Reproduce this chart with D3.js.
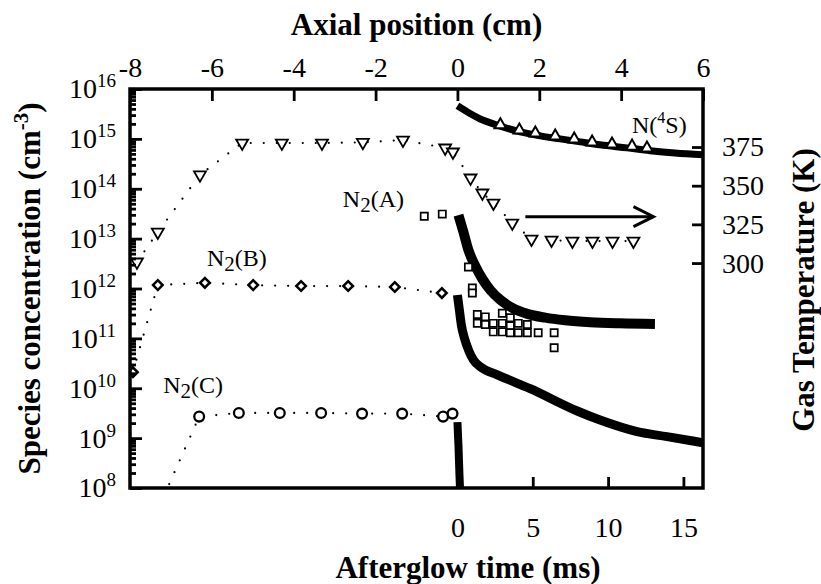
<!DOCTYPE html>
<html>
<head>
<meta charset="utf-8">
<script src="https://cdn.jsdelivr.net/npm/d3@7"></script>
<style>
  body { margin: 0; background: #fff; }
  text { font-family: "Liberation Serif", "Times New Roman", "DejaVu Serif", serif; fill: #000; }
  .title { font-weight: bold; font-size: 31px; }
  .axis text { font-size: 28px; }
  .axis line { stroke: #000; stroke-width: 2.8; }
  .lbl { font-size: 24px; }
</style>
</head>
<body>
<div id="chart"></div>
<script>
/* species concentrations in an N2 discharge and its afterglow */

const width = 821, height = 584,
    margin = ({ top: 89, right: 118, bottom: 96, left: 130 });

// tick values
const axialTicks = [-8, -6, -4, -2, 0, 2, 4, 6];     // cm, top axis
const timeTicks = [0, 5, 10, 15];                    // ms, bottom axis
const tempTicks = [300, 325, 350, 375];              // K, right axis
const decades = [8, 9, 10, 11, 12, 13, 14, 15, 16];  // log10, left axis

// gas temperature (K) vs axial position (cm), open down triangles
const tempPos = [-7.83, -7.32, -6.29, -5.26, -4.29, -3.31, -2.31, -1.33, -0.30, -0.11,
                 0.32, 0.61, 0.88, 1.34, 1.81, 2.30, 2.81, 3.30, 3.79, 4.30];
const tempVal = [300.7, 320, 357, 377.6, 377.6, 377.6, 378, 379.5, 374.4, 371.8,
                 355, 345.3, 338.8, 325.9, 315.5, 314.8, 314.2, 314.2, 314.2, 314.2];

// N2(B) in the discharge, open diamonds
const n2bPos = [-7.93, -7.32, -6.17, -4.99, -3.82, -2.67, -1.53, -0.38];
const n2bVal = [2.1e10, 1.17e12, 1.3e12, 1.17e12, 1.12e12, 1.12e12, 1.07e12, 8.1e11];

// N2(C) in the discharge, open circles (first point lies below the axis)
const n2cPos = [-7.3, -6.31, -5.34, -4.34, -3.33, -2.33, -1.35, -0.35, -0.12];
const n2cVal = [4e7, 2.7e9, 3.2e9, 3.2e9, 3.2e9, 3.1e9, 3.1e9, 2.7e9, 3.1e9];

// N2(A) measured, open squares
const n2aPos = [-0.81, -0.37];
const n2aVal = [2.8e13, 3.1e13];
const n2aTime = [0.73, 0.99, 0.99, 1.32, 1.32, 1.85, 1.85, 2.38, 2.38, 2.98, 2.98, 2.98,
                 3.51, 3.51, 3.51, 4.04, 4.04, 4.64, 4.64, 5.36, 6.42, 6.42];
const n2aTimeVal = [2.7e12, 1.02e12, 8.1e11, 3.0e11, 2.0e11, 2.7e11, 1.9e11, 2.0e11, 1.35e11,
                    3.2e11, 2.0e11, 1.35e11, 2.6e11, 1.8e11, 1.3e11, 2.0e11, 1.3e11,
                    1.9e11, 1.3e11, 1.3e11, 1.3e11, 6.5e10];

// afterglow model curves vs time (ms)
const n2aCurveT = [0.07, 0.40, 0.73, 1.19, 1.66, 2.19, 2.85, 3.64, 4.64, 5.83, 7.15, 8.81, 10.79, 13.11];
const n2aCurveV = [2.95e13, 1.35e13, 5.9e12, 2.8e12, 1.55e12, 9.3e11, 5.9e11, 4.1e11, 3.1e11,
                   2.6e11, 2.3e11, 2.1e11, 2.0e11, 1.95e11];
const n2bCurveT = [0, 0.13, 0.26, 0.46, 0.73, 1.06, 1.52, 2.65, 4.83, 7.95, 9.47, 11.92, 13.91, 16.29];
const n2bCurveV = [7.4e11, 3.7e11, 1.86e11, 1.02e11, 5.9e10, 3.7e10, 2.7e10, 1.86e10, 9.8e9,
                   3.5e9, 2.3e9, 1.35e9, 1.07e9, 8.1e8];
const n2cCurveT = [0, 0.07, 0.13, 0.2];
const n2cCurveV = [2.1e9, 7e8, 2e8, 6e7];
const nsCurveT = [0, 0.86, 1.52, 2.85, 4.17, 5.50, 6.82, 8.15, 9.47, 11.26, 12.78, 14.44, 16.29];
const nsCurveV = [4.6e15, 3.2e15, 2.5e15, 1.8e15, 1.38e15, 1.15e15, 1.0e15, 8.7e14, 7.6e14,
                  6.6e14, 5.8e14, 5.2e14, 4.8e14];

// N(4S) measured, open up triangles
const nsTime = [2.85, 4.11, 5.17, 6.49, 7.75, 8.94, 10.26, 11.59, 12.58];
const nsVal = [1.9e15, 1.5e15, 1.3e15, 1.13e15, 9.9e14, 8.6e14, 7.8e14, 7.1e14, 6.5e14];

const svg = d3.select("#chart")
    .append("svg")
    .attr("width", width)
    .attr("height", height)
    .attr("viewBox", [0, 0, width, height]);

let x = d3.scaleLinear()            // axial position, top axis
    .domain([-8, 6])
    .range([margin.left, width - margin.right]);

let t = d3.scaleLinear()            // afterglow time, bottom axis, starts at x = 0 cm
    .domain([0, 16.3])
    .range([x(0), width - margin.right]);

let y = d3.scaleLog()
    .domain([1e8, 1e16])
    .range([height - margin.bottom, margin.top]);

let yT = d3.scaleLinear()           // gas temperature, right axis
    .domain([154.6, 412.5])
    .range([height - margin.bottom, margin.top]);

svg.append("clipPath").attr("id", "plot")
  .append("rect")
    .attr("x", margin.left).attr("y", margin.top)
    .attr("width", width - margin.left - margin.right)
    .attr("height", height - margin.top - margin.bottom);

const plot = svg.append("g").attr("clip-path", "url(#plot)");

const zip = (a, b) => a.map((v, i) => [v, b[i]]);

// dotted guide lines
function dotted(data, xs, ys) {
  plot.append("path")
    .datum(data)
    .attr("d", d3.line().x(d => xs(d[0])).y(d => ys(d[1])))
    .attr("fill", "none")
    .attr("stroke", "#000")
    .attr("stroke-width", 2.2)
    .attr("stroke-linecap", "round")
    .attr("stroke-dasharray", "0,13");
}

function markers(data, xs, ys, type, size, rot, sw) {
  plot.append("g").selectAll("path")
    .data(data)
    .join("path")
      .attr("d", d3.symbol().type(type).size(size))
      .attr("transform", d => `translate(${xs(d[0])},${ys(d[1])}) rotate(${rot})`)
      .attr("fill", "#fff")
      .attr("stroke", "#000")
      .attr("stroke-width", sw);
}

function band(data, w) {
  plot.append("path")
    .datum(data)
    .attr("d", d3.line().x(d => t(d[0])).y(d => y(d[1])).curve(d3.curveMonotoneX))
    .attr("fill", "none")
    .attr("stroke", "#000")
    .attr("stroke-width", w)
    .attr("stroke-linejoin", "round");
}

const temp = zip(tempPos, tempVal),
    n2b = zip(n2bPos, n2bVal),
    n2c = zip(n2cPos, n2cVal);

dotted(temp, x, yT);
dotted(n2b, x, y);
dotted(n2c, x, y);

// thick afterglow curves
band(zip(n2bCurveT, n2bCurveV), 9);
band(zip(n2cCurveT, n2cCurveV), 8);
band(zip(n2aCurveT, n2aCurveV), 10);
band(zip(nsCurveT, nsCurveV), 7);

markers(temp, x, yT, d3.symbolTriangle, 62, 180, 1.8);
markers(n2b, x, y, d3.symbolSquare, 46, 45, 2.5);
markers(n2c, x, y, d3.symbolCircle, 75, 0, 2.3);
markers(zip(n2aPos, n2aVal), x, y, d3.symbolSquare, 52, 0, 1.7);
markers(zip(n2aTime, n2aTimeVal), t, y, d3.symbolSquare, 52, 0, 1.7);
markers(zip(nsTime, nsVal), t, y, d3.symbolTriangle, 58, 0, 2);

// axes
const noDomain = g => g.select(".domain").remove();
const isDecade = d => Math.abs(Math.log10(d) - Math.round(Math.log10(d))) < 1e-9;

svg.append("g")
    .attr("class", "axis")
    .attr("transform", `translate(${margin.left},0)`)
    .call(d3.axisLeft(y).tickValues(y.ticks().filter(d => !isDecade(d))).tickSize(-6).tickFormat(""))
    .call(noDomain)
    .selectAll("line").attr("stroke-width", 2);

const gy = svg.append("g")
    .attr("class", "axis")
    .attr("transform", `translate(${margin.left},0)`)
    .call(d3.axisLeft(y).tickValues(decades.map(d => 10 ** d)).tickSize(-12).tickPadding(14).tickFormat(""))
    .call(noDomain);

gy.selectAll(".tick text").each(function(d) {
  const txt = d3.select(this).attr("font-size", 29);
  txt.append("tspan").text("10");
  txt.append("tspan").attr("dy", -11).attr("font-size", 19).text(Math.round(Math.log10(d)));
});

svg.append("g")
    .attr("class", "axis")
    .attr("transform", `translate(0,${margin.top})`)
    .call(d3.axisTop(x).tickValues(axialTicks).tickSize(-12).tickPadding(12).tickFormat(d => String(d)))
    .call(noDomain);

svg.append("g")
    .attr("class", "axis")
    .attr("transform", `translate(0,${height - margin.bottom})`)
    .call(d3.axisBottom(t).tickValues(timeTicks).tickSize(-11).tickPadding(29).tickFormat(d => String(d)))
    .call(noDomain);

svg.append("g")
    .attr("class", "axis")
    .attr("transform", `translate(${width - margin.right},0)`)
    .call(d3.axisRight(yT).tickValues(tempTicks).tickSize(-11).tickPadding(19))
    .call(noDomain);

svg.append("rect")                  // frame
    .attr("x", margin.left).attr("y", margin.top)
    .attr("width", width - margin.left - margin.right)
    .attr("height", height - margin.top - margin.bottom)
    .attr("fill", "none")
    .attr("stroke", "#000")
    .attr("stroke-width", 3.5);

// axis titles
svg.append("text")
    .attr("class", "title")
    .attr("text-anchor", "middle")
    .attr("x", (margin.left + width - margin.right) / 2)
    .attr("y", 35)
    .text("Axial position (cm)");

svg.append("text")
    .attr("class", "title")
    .attr("text-anchor", "middle")
    .attr("x", 468)
    .attr("y", 578)
    .text("Afterglow time (ms)");

const yl = svg.append("text")
    .attr("class", "title")
    .attr("text-anchor", "middle")
    .attr("transform", `translate(40,${(margin.top + height - margin.bottom) / 2}) rotate(-90)`);
yl.append("tspan").text("Species concentration (cm");
yl.append("tspan").attr("dy", -12).attr("font-size", 21).text("-3");
yl.append("tspan").attr("dy", 12).text(")");

svg.append("text")
    .attr("class", "title")
    .attr("text-anchor", "middle")
    .attr("transform", `translate(814,290) rotate(-90)`)
    .text("Gas Temperature (K)");

// species labels
function n2label(cm, v, state) {
  const g = svg.append("text").attr("class", "lbl").attr("x", x(cm)).attr("y", y(v));
  g.append("tspan").text("N");
  g.append("tspan").attr("dy", 5).attr("font-size", 21).text("2");
  g.append("tspan").attr("dy", -5).text(`(${state})`);
}
n2label(-2.80, 10 ** 13.64, "A");
n2label(-6.12, 10 ** 12.45, "B");
n2label(-7.19, 10 ** 9.91, "C");

const ns = svg.append("text").attr("class", "lbl").attr("x", t(11.59)).attr("y", y(10 ** 15.12));
ns.append("tspan").text("N(");
ns.append("tspan").attr("dy", -10).attr("font-size", 16).text("4");
ns.append("tspan").attr("dy", 10).text("S)");

// arrow: triangles refer to the right axis
const arrowFrom = 1.66, arrowTo = 4.79, arrowTemp = 330;
svg.append("line")
    .attr("x1", x(arrowFrom)).attr("x2", x(arrowTo))
    .attr("y1", yT(arrowTemp)).attr("y2", yT(arrowTemp))
    .attr("stroke", "#000").attr("stroke-width", 3);
svg.append("path")
    .attr("d", `M${x(arrowTo) - 20},${yT(arrowTemp) - 10}L${x(arrowTo)},${yT(arrowTemp)}L${x(arrowTo) - 20},${yT(arrowTemp) + 10}`)
    .attr("fill", "none").attr("stroke", "#000").attr("stroke-width", 3);
</script>
</body>
</html>
